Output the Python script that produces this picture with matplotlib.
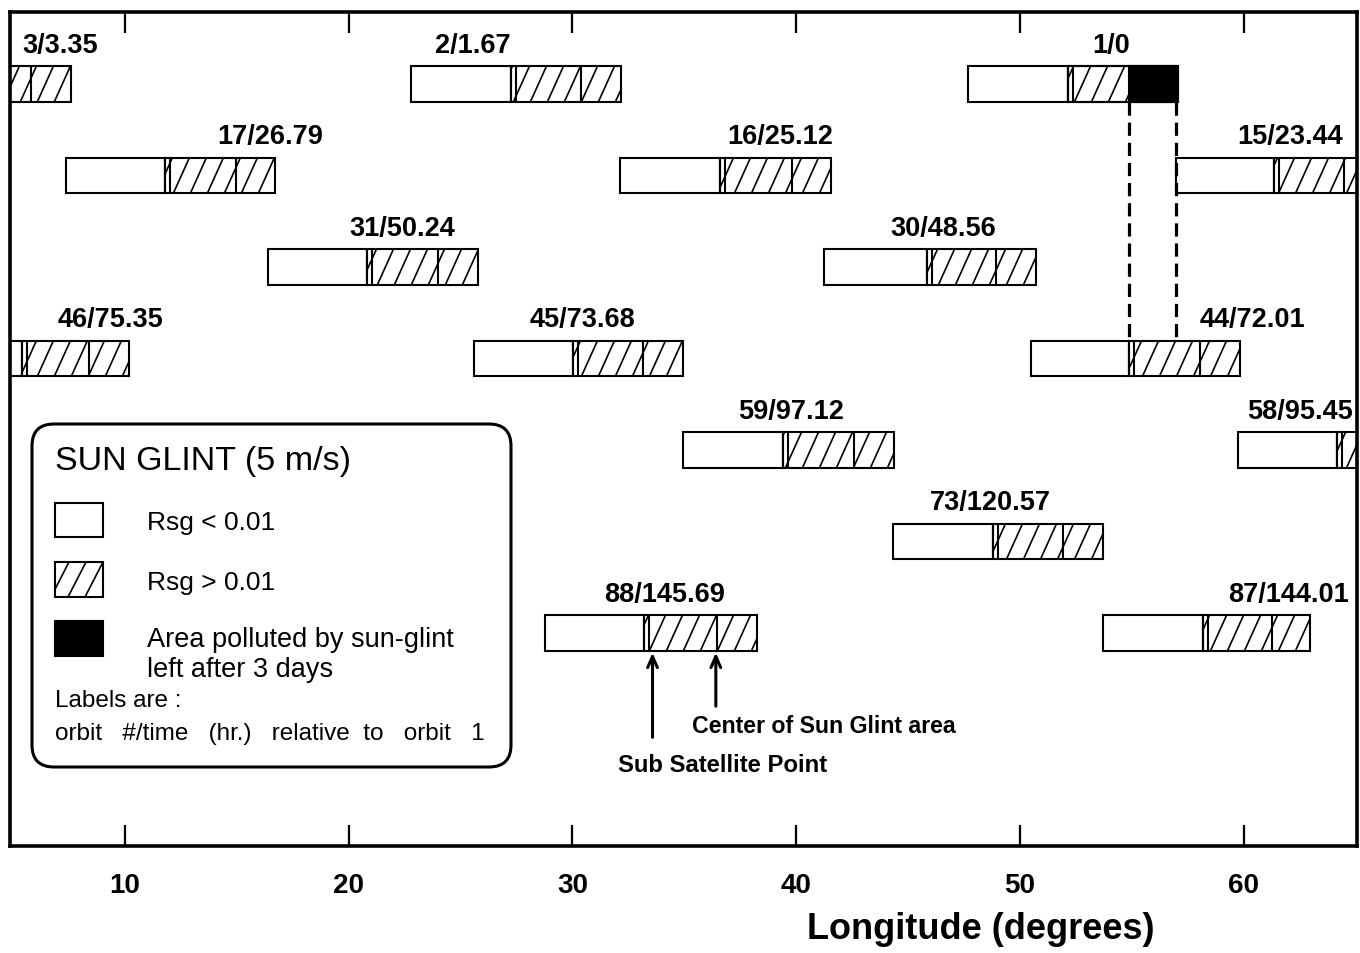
import numpy as np
import matplotlib
matplotlib.use('Agg')
import matplotlib.pyplot as plt
from matplotlib.patches import Rectangle, FancyBboxPatch
from matplotlib.collections import LineCollection

plt.rcParams['font.family'] = ['Liberation Sans', 'DejaVu Sans']
plt.rcParams['lines.scale_dashes'] = False

# ---------------- data (longitudes in degrees) ----------------
orbits = [3, 2, 1, 17, 16, 15, 31, 30, 46, 45, 44, 59, 58, 73, 88, 87]
hours = ['3.35', '1.67', '0', '26.79', '25.12', '23.44', '50.24', '48.56',
         '75.35', '73.68', '72.01', '97.12', '95.45', '120.57', '145.69', '144.01']
rows = [0, 0, 0, 1, 1, 1, 2, 2, 3, 3, 3, 4, 4, 5, 6, 6]
west_edge = [-1.8, 22.79, 47.68, 7.36, 32.13, 56.98, 16.39, 41.25,
             0.97, 25.60, 50.50, 34.94, 59.75, 44.33, 28.78, 53.72]
sub_sat = [2.6, 27.26, 52.15, 11.79, 36.60, 61.36, 20.82, 45.85,
           5.40, 30.03, 54.88, 39.41, 64.18, 48.80, 33.20, 58.19]
glint_center = [5.80, 30.38, 55.33, 14.96, 39.82, 64.49, 23.99, 48.94,
                8.39, 33.16, 58.06, 42.59, 67.31, 51.93, 36.46, 61.27]
east_edge = [7.59, 32.17, 57.07, 16.71, 41.56, 66.28, 25.78, 50.72,
             10.18, 34.94, 59.84, 44.38, 69.10, 53.72, 38.25, 62.97]
label_lon = [7.09, 25.56, 54.08, 16.48, 39.28, 62.06, 22.38, 46.59,
             9.35, 30.43, 60.40, 39.75, 62.53, 48.69, 34.10, 61.99]
polluted = [54.86, 56.98]          # orbit-1 glint left after 3 days
polluted_orbit, polluted_to = 1, 44
annot_orbit = 88
xticks = [10, 20, 30, 40, 50, 60]

# ---------------- figure ----------------
W, Hpx = 1360, 954
fig = plt.figure(figsize=(W / 100, Hpx / 100), dpi=100)
ax = fig.add_axes([10 / W, 1 - 847 / Hpx, 1347 / W, 834 / Hpx])
XLIM = (4.86, 65.07)
ax.set_xlim(*XLIM)
ax.set_ylim(8.328, -0.787)

BH = 0.39        # bar height (rows)
SSP_GAP = 0.22   # double line at sub-satellite point
LW = 1.5
HATCH_STEP = 0.76   # horizontal spacing of hatch lines (deg)
HATCH_RUN = 0.72    # horizontal run of a hatch line across the bar (deg)
HATCH_LW = 1.2


def hatched_rect(a, x0, x1, y0, y1, step, run, zorder=2, xlim=None):
    """white rectangle with steep '/' hatching; y0 is top, y1 bottom on screen"""
    cx0, cx1 = x0, x1
    if xlim is not None:
        cx0, cx1 = max(x0, xlim[0]), min(x1, xlim[1])
    rect = Rectangle((cx0, min(y0, y1)), cx1 - cx0, abs(y1 - y0), facecolor='white',
                     edgecolor='none', zorder=zorder)
    a.add_patch(rect)
    starts = np.arange(np.floor((x0 - run) / step) * step, x1 + step, step)
    segs = [[(s, y1), (s + run, y0)] for s in starts]
    lc = LineCollection(segs, colors='black', linewidths=HATCH_LW, zorder=zorder + 0.1)
    a.add_collection(lc)
    lc.set_clip_path(rect)
    a.add_patch(Rectangle((x0, min(y0, y1)), x1 - x0, abs(y1 - y0), facecolor='none',
                          edgecolor='black', lw=LW, zorder=zorder + 0.2))


for i in range(len(orbits)):
    y = rows[i]
    y0, y1 = y - BH / 2, y + BH / 2
    ax.add_patch(Rectangle((west_edge[i], y0), sub_sat[i] - west_edge[i], BH,
                           facecolor='white', edgecolor='black', lw=LW, zorder=2))
    hatched_rect(ax, sub_sat[i], east_edge[i], y0, y1, HATCH_STEP, HATCH_RUN, xlim=XLIM)
    ax.vlines([sub_sat[i], sub_sat[i] + SSP_GAP, glint_center[i]], y0, y1,
              color='black', lw=LW, zorder=3)
    ax.text(label_lon[i], y - 0.35, f'{orbits[i]}/{hours[i]}', ha='center',
            va='baseline', fontsize=19.5, fontweight='bold', zorder=5)

# polluted area on orbit 1
ip = orbits.index(polluted_orbit)
iq = orbits.index(polluted_to)
ax.add_patch(Rectangle((polluted[0], rows[ip] - BH / 2), polluted[1] - polluted[0], BH,
                       facecolor='black', edgecolor='black', lw=LW, zorder=4))
ax.add_patch(Rectangle((sub_sat[ip], rows[ip] - BH / 2), east_edge[ip] - sub_sat[ip], BH,
                       facecolor='none', edgecolor='black', lw=LW, zorder=4))
for xv in polluted:
    ax.plot([xv, xv], [rows[ip] + BH / 2, rows[iq] - BH / 2], color='black',
            lw=2.3, dashes=(9.5, 5), zorder=3)

# annotations for orbit 88
ia = orbits.index(annot_orbit)
ybot = rows[ia] + BH / 2
arrow_kw = dict(arrowstyle='->,head_length=0.8,head_width=0.35', lw=2.2,
                color='black', shrinkA=0, shrinkB=0)
ax.annotate('', xy=(sub_sat[ia] + 0.38, ybot + 0.02), xytext=(sub_sat[ia] + 0.38, 7.14),
            arrowprops=arrow_kw)
ax.annotate('', xy=(glint_center[ia] - 0.05, ybot + 0.02), xytext=(glint_center[ia] - 0.05, 6.80),
            arrowprops=arrow_kw)
ax.text(35.35, 7.08, 'Center of Sun Glint area', fontsize=16.7, fontweight='bold',
        va='baseline', ha='left')
ax.text(32.04, 7.51, 'Sub Satellite Point', fontsize=17.2, fontweight='bold',
        va='baseline', ha='left')

# axes styling
ax.set_xticks(xticks)
ax.set_xticklabels([str(t) for t in xticks], fontsize=20, fontweight='bold')
ax.set_yticks([])
ax.tick_params(axis='x', direction='in', length=15, width=1.6, top=True,
               labeltop=False, pad=19)
for sp in ax.spines.values():
    sp.set_linewidth(2.6)
    sp.set_zorder(6)

# ---------------- overlay (legend, axis title) in pixel units ----------------
lay = fig.add_axes([0, 0, 1, 1], zorder=10)
lay.set_xlim(0, W)
lay.set_ylim(Hpx, 0)
lay.axis('off')
lay.patch.set_alpha(0)

lay.add_patch(FancyBboxPatch((32, 425), 479, 343,
                             boxstyle='round,pad=0,rounding_size=22',
                             facecolor='white', edgecolor='black', lw=2.2))
lay.text(55, 470, 'SUN GLINT (5 m/s)', fontsize=24.5, va='baseline', ha='left')
lay.add_patch(Rectangle((55, 504), 48, 34, facecolor='white', edgecolor='black', lw=1.5))
lay.text(147, 530, 'Rsg < 0.01', fontsize=19, va='baseline', ha='left')
hatched_rect(lay, 55, 103, 563, 598, 17, 18, zorder=3)
lay.text(147, 590, 'Rsg > 0.01', fontsize=19, va='baseline', ha='left')
lay.add_patch(Rectangle((55, 622), 48, 35, facecolor='black', edgecolor='black', lw=1.5))
lay.text(147, 647, 'Area polluted by sun-glint', fontsize=19.5, va='baseline', ha='left')
lay.text(147, 677, 'left after 3 days', fontsize=19.5, va='baseline', ha='left')
lay.text(55, 707, 'Labels are :', fontsize=17.5, va='baseline', ha='left')
lay.text(55, 740, 'orbit   #/time   (hr.)   relative  to   orbit   1', fontsize=17.5,
         va='baseline', ha='left')

lay.text(807, 939, 'Longitude (degrees)', fontsize=26, fontweight='bold',
         va='baseline', ha='left')

fig.savefig('out.png', dpi=100)
